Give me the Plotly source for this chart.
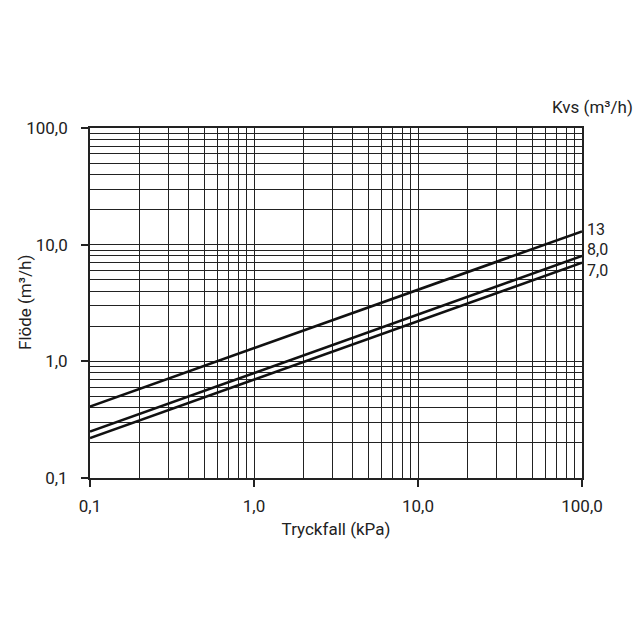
import math
import plotly.graph_objects as go

dp = [0.1, 100.0]
q_kvs13 = [0.41, 13.0]
q_kvs8 = [0.25, 8.0]
q_kvs7 = [0.22, 7.0]
series_names = ["13", "8,0", "7,0"]

major_vals = [0.1, 1, 10, 100]
major_text = ["0,1", "1,0", "10,0", "100,0"]
minor_vals = [m * d for d in [0.1, 1, 10] for m in range(2, 10)]

fig = go.Figure()
for name, q in zip(series_names, [q_kvs13, q_kvs8, q_kvs7]):
    fig.add_trace(go.Scatter(x=dp, y=q, mode="lines", name=name,
                             line=dict(color="#111", width=2.6), showlegend=False))

font = dict(family="Roboto, DejaVu Sans", size=17, color="#222")
lab_font = dict(family="Roboto, DejaVu Sans", size=16, color="#222")

axis_common = dict(
    type="log", range=[-1, 2], tickmode="array", tickvals=major_vals, ticktext=major_text,
    showgrid=True, gridcolor="#222", gridwidth=1.2,
    showline=True, linecolor="#222", linewidth=1.8, mirror=True,
    ticks="outside", ticklen=7, tickcolor="#222", tickwidth=1.5,
    zeroline=False, tickfont=font, automargin=False,
    minor=dict(tickmode="array", tickvals=minor_vals, showgrid=True,
               gridcolor="#222", gridwidth=1.1, ticks=""),
)

fig.update_xaxes(**axis_common, ticklabelstandoff=5,
                 title=dict(text="Tryckfall (kPa)", font=font, standoff=8))
fig.update_yaxes(**axis_common, ticklabelstandoff=10)

fig.add_annotation(x=0, y=0.5, xref="paper", yref="paper", text="Flöde (m³/h)",
                   textangle=-90, showarrow=False, xanchor="center", yanchor="middle",
                   xshift=-65, font=font)

# end labels for each Kvs line (vertical pixel shifts keep them apart)
label_shifts = [2, 6, -8]
for name, q, ys in zip(series_names, [q_kvs13, q_kvs8, q_kvs7], label_shifts):
    fig.add_annotation(x=2, y=math.log10(q[-1]), xref="x", yref="y", text=name,
                       showarrow=False, xanchor="left", xshift=4, yshift=ys,
                       font=lab_font, borderpad=0)
fig.add_annotation(x=1.0, y=1.0, xref="paper", yref="paper", text="Kvs (m³/h)",
                   showarrow=False, xanchor="left", yanchor="bottom", xshift=-32, yshift=9,
                   font=font)

fig.update_layout(
    width=640, height=640,
    margin=dict(l=90, r=58, t=128, b=162),
    paper_bgcolor="white", plot_bgcolor="white",
    font=font,
)

fig.write_html("out.html")
